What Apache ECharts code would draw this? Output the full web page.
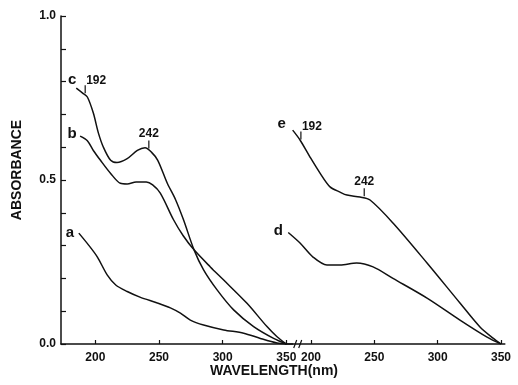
<!DOCTYPE html>
<html>
<head>
<meta charset="utf-8">
<script src="https://cdn.jsdelivr.net/npm/echarts@6/dist/echarts.min.js"></script>
<style>
html, body { margin: 0; padding: 0; background: #fff; }
#chart { width: 518px; height: 385px; }
</style>
</head>
<body>
<div id="chart"></div>
<script>
// left panel (wavelength, absorbance)
const aX = [187, 195, 201.6, 209.4, 216, 225, 235, 248.7, 258.9, 266.8, 274.6, 285, 300.8, 316.5, 329.6, 342.7, 350]
const aY = [0.338, 0.30, 0.265, 0.21, 0.18, 0.16, 0.143, 0.125, 0.11, 0.094, 0.073, 0.058, 0.043, 0.033, 0.017, 0.003, 0]
const bX = [188, 193.7, 198.4, 204, 212, 219.6, 225, 232, 240, 245, 251, 261.5, 269, 277.5, 290.3, 300.8, 319.1, 334.8, 342.7, 350]
const bY = [0.634, 0.62, 0.59, 0.56, 0.52, 0.49, 0.488, 0.494, 0.494, 0.485, 0.46, 0.378, 0.33, 0.287, 0.235, 0.195, 0.124, 0.053, 0.022, 0]
const cX = [185, 190, 193.7, 198.4, 202.4, 206.3, 212, 217, 225, 233, 239, 244, 249, 256.5, 263, 269.3, 277.5, 285, 295.6, 308.6, 324.3, 340, 350]
const cY = [0.78, 0.765, 0.753, 0.704, 0.643, 0.60, 0.56, 0.553, 0.565, 0.59, 0.598, 0.585, 0.56, 0.49, 0.44, 0.378, 0.287, 0.226, 0.165, 0.104, 0.053, 0.017, 0]
// right panel
const dX = [182, 191.3, 201.6, 212.6, 223, 236, 249, 264.7, 291.6, 317.6, 339, 350]
const dY = [0.34, 0.308, 0.265, 0.241, 0.241, 0.247, 0.235, 0.20, 0.14, 0.073, 0.021, 0]
const eX = [185.5, 191.3, 199.2, 207.1, 215, 222.9, 228.4, 238.7, 246.6, 264.7, 291.6, 317.6, 333.4, 343.7, 350]
const eY = [0.652, 0.622, 0.57, 0.521, 0.479, 0.463, 0.454, 0.448, 0.439, 0.369, 0.247, 0.125, 0.052, 0.018, 0]

const xTicks = [200, 250, 300, 350]
const yTicks = [0, 0.5, 1.0]
const peakMarks = [192, 242]

const font = 'Liberation Sans, Arial, sans-serif'
const ink = '#111'

function pairs(xs, ys) {
  return xs.map((x, i) => [x, ys[i]])
}
function valueAt(xs, ys, x) {
  for (let i = 1; i < xs.length; i++) {
    if (x <= xs[i]) {
      const t = (x - xs[i - 1]) / (xs[i] - xs[i - 1])
      return ys[i - 1] + t * (ys[i] - ys[i - 1])
    }
  }
  return ys[ys.length - 1]
}

const chart = echarts.init(document.getElementById('chart'))

function xAxisCfg(idx, min, max) {
  return {
    gridIndex: idx,
    type: 'value',
    min: min,
    max: max,
    axisLine: { lineStyle: { color: ink, width: 1.5 } },
    axisTick: { inside: true, length: 4, customValues: xTicks, lineStyle: { color: ink, width: 1.2 } },
    axisLabel: { customValues: xTicks, color: ink, fontFamily: font, fontSize: 12, fontWeight: 'bold', margin: 8 },
    splitLine: { show: false },
  }
}

function lineSeries(xs, ys, idx) {
  return {
    type: 'line',
    xAxisIndex: idx,
    yAxisIndex: idx,
    data: pairs(xs, ys),
    smooth: 0.3,
    showSymbol: false,
    lineStyle: { color: ink, width: 1.5 },
  }
}

chart.setOption({
  animation: false,
  grid: [
    { left: 61, top: 16, width: 231.7, height: 328 },
    { left: 285.7, top: 16, width: 219.1, height: 328 },
  ],
  xAxis: [xAxisCfg(0, 173, 355), xAxisCfg(1, 180, 353)],
  yAxis: [{
    gridIndex: 0,
    type: 'value',
    min: 0,
    max: 1,
    interval: 0.1,
    axisLine: { show: true, lineStyle: { color: ink, width: 1.5 } },
    axisTick: { inside: true, length: 5, lineStyle: { color: ink, width: 1.2 } },
    axisLabel: {
      customValues: yTicks,
      formatter: v => v.toFixed(1),
      color: ink, fontFamily: font, fontSize: 12, fontWeight: 'bold', margin: 5,
    },
    splitLine: { show: false },
  }, {
    gridIndex: 1,
    type: 'value',
    min: 0,
    max: 1,
    show: false,
  }],
  series: [
    lineSeries(aX, aY, 0),
    lineSeries(bX, bY, 0),
    lineSeries(cX, cY, 0),
    lineSeries(dX, dY, 1),
    lineSeries(eX, eY, 1),
  ],
})

// annotations: curve letters, peak leaders, axis break, axis titles
const graphics = []
function px(idx, x, y) {
  return chart.convertToPixel({ xAxisIndex: idx, yAxisIndex: idx }, [x, y])
}
function text(str, x, y, align, vAlign, size) {
  graphics.push({
    type: 'text',
    x: x, y: y,
    style: { text: str, fill: ink, font: 'bold ' + (size || 13) + 'px ' + font, textAlign: align, textVerticalAlign: vAlign },
  })
}
function line(x1, y1, x2, y2) {
  graphics.push({ type: 'line', shape: { x1, y1, x2, y2 }, style: { stroke: ink, lineWidth: 1.2 } })
}

const curves = [
  { name: 'a', xs: aX, ys: aY, idx: 0, dx: -9, dy: 0, peaks: [] },
  { name: 'b', xs: bX, ys: bY, idx: 0, dx: -8, dy: -2, peaks: [] },
  { name: 'c', xs: cX, ys: cY, idx: 0, dx: -4, dy: -8, peaks: peakMarks },
  { name: 'd', xs: dX, ys: dY, idx: 1, dx: -10, dy: -2, peaks: [] },
  { name: 'e', xs: eX, ys: eY, idx: 1, dx: -11, dy: -6, peaks: peakMarks },
]
curves.forEach(c => {
  const p0 = px(c.idx, c.xs[0], c.ys[0])
  text(c.name, p0[0] + c.dx, p0[1] + c.dy, 'center', 'middle', 15)
  c.peaks.forEach((w, k) => {
    const p = px(c.idx, w, valueAt(c.xs, c.ys, w))
    line(p[0], p[1] - 2, p[0], p[1] - 10)
    if (k === 0) text(String(w), p[0] + 1, p[1] - 9, 'left', 'bottom', 12)
    else text(String(w), p[0], p[1] - 11, 'center', 'bottom', 12)
  })
})

// axis break: small gap in the baseline with two slashes
const brk = px(0, 355, 0)
graphics.push({ type: 'rect', shape: { x: brk[0] + 3, y: brk[1] - 2, width: 4, height: 4 }, style: { fill: '#fff' } })
line(brk[0] + 1, brk[1] + 4, brk[0] + 4, brk[1] - 4)
line(brk[0] + 6, brk[1] + 4, brk[0] + 9, brk[1] - 4)

graphics.push({
  type: 'text', x: 17, y: 170, rotation: Math.PI / 2,
  style: { text: 'ABSORBANCE', fill: ink, font: 'bold 14px ' + font, textAlign: 'center', textVerticalAlign: 'middle' },
})
graphics.push({
  type: 'text', x: 274, y: 371,
  style: { text: 'WAVELENGTH(nm)', fill: ink, font: 'bold 14px ' + font, textAlign: 'center', textVerticalAlign: 'middle' },
})

chart.setOption({ graphic: graphics })
</script>
</body>
</html>
